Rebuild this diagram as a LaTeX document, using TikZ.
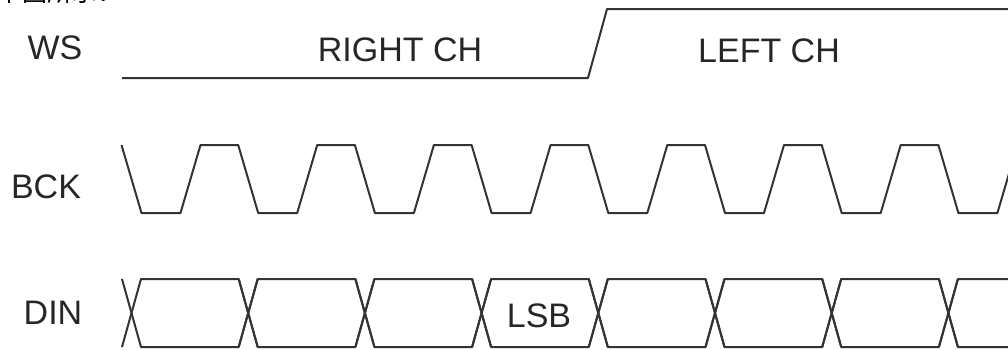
\documentclass[tikz,border=0pt]{standalone}
\usepackage{fontspec}
\setmainfont{Liberation Sans}
\newfontfamily\cjk{Noto Sans CJK SC}
\usetikzlibrary{positioning}

\begin{document}
\begin{tikzpicture}[x=1pt,y=-1pt,
  sig/.style={draw=black!80,line width=2pt,line join=round},
  lbl/.style={font=\fontsize{34}{40}\selectfont,text=black!85,inner sep=0pt}]

  \useasboundingbox (0,0) rectangle (1008,349);
  \clip (0,0) rectangle (1008,349);

  \node[anchor=base west,inner sep=0pt,font=\cjk\fontsize{25}{25}\selectfont] (cap) at (-3,1) {下图所示：};

  \node[lbl] (ws)  at (55,48)  {WS};
  \node[lbl] (bck) at (46,187) {BCK};
  \node[lbl] (din) at (53,313) {DIN};

  \node[lbl] (right) at (400,50) {RIGHT CH};
  \node[lbl] (left)  at (769,51) {LEFT CH};
  \node[lbl] (lsb)   at (539,316) {LSB};

  % WS
  \draw[sig] (122,78) -- (588,78) -- (607,9) -- (1012,9);

  % BCK
  \draw[sig] (121.5,145)
    \foreach \i in {0,...,7}{
      -- ({131.5+116.7*\i-10},145) -- ({131.5+116.7*\i+10},213)
      -- ({131.5+116.7*\i+49},213) -- ({131.5+116.7*\i+69},145)
    };

  % DIN
  \foreach \i in {0,...,7}{
    \draw[sig] ({131.5+116.7*\i-9.5},347) -- ({131.5+116.7*\i+9.5},279)
      -- ({131.5+116.7*(\i+1)-9.5},279) -- ({131.5+116.7*(\i+1)+9.5},347);
    \draw[sig] ({131.5+116.7*\i-9.5},279) -- ({131.5+116.7*\i+9.5},347)
      -- ({131.5+116.7*(\i+1)-9.5},347) -- ({131.5+116.7*(\i+1)+9.5},279);
  }

\end{tikzpicture}
\end{document}
